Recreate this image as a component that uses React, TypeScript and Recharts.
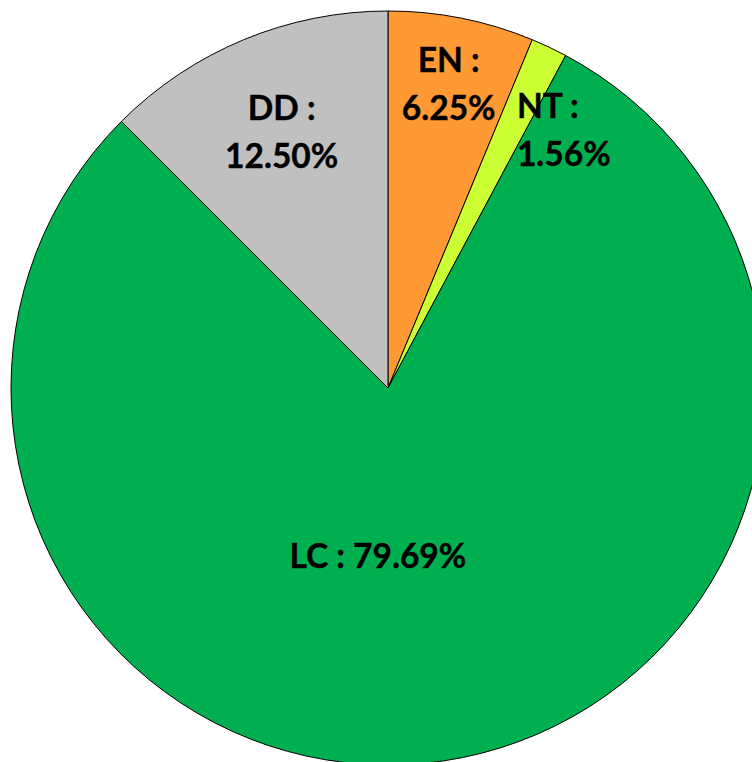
import React from 'react';
import { PieChart, Pie, Cell } from 'recharts';

const categories = ['EN', 'NT', 'LC', 'DD'];
const shares = [6.25, 1.56, 79.69, 12.5];
const colors = ['#FF9933', '#CCFF33', '#00B050', '#C0C0C0'];

const data = categories.map((name, i) => ({ name, value: shares[i] }));

// where each label sits: fraction of the radius along the slice mid-angle, plus nudges
const labelPlace: Record<string, { r: number; dx: number; dy: number; anchor: string; split: boolean }> = {
  EN: { r: 0.825, dx: 0, dy: 0, anchor: 'middle', split: true },
  NT: { r: 0.8, dx: 0, dy: 14, anchor: 'start', split: true },
  LC: { r: 0.449, dx: -35, dy: 0, anchor: 'middle', split: false },
  DD: { r: 0.737, dx: 0, dy: 0, anchor: 'middle', split: true },
};

const RAD = Math.PI / 180;

function renderLabel(props: any) {
  const { cx, cy, midAngle, outerRadius, name, value } = props;
  const p = labelPlace[name];
  const x = cx + p.r * outerRadius * Math.cos(-midAngle * RAD) + p.dx;
  const y = cy + p.r * outerRadius * Math.sin(-midAngle * RAD) + p.dy;
  const pct = value.toFixed(2) + '%';
  const style = { fontFamily: 'Lato', fontWeight: 700, fontSize: 33.5, fill: '#000', stroke: '#000', strokeWidth: 0.4 };
  if (!p.split) {
    return (
      <text x={x} y={y} textAnchor={p.anchor} dominantBaseline="central" style={style}>
        {name} : {pct}
      </text>
    );
  }
  return (
    <text x={x} y={y} textAnchor={p.anchor} style={style}>
      <tspan x={x} dy={-24} dominantBaseline="central">{name} :</tspan>
      <tspan x={x} dy={48} dominantBaseline="central">{pct}</tspan>
    </text>
  );
}

export default function App() {
  return (
    <div style={{ position: 'absolute', left: 0, top: 0, width: 752, height: 762, background: '#fff' }}>
      <PieChart width={752} height={762} margin={{ top: 0, right: 0, bottom: 0, left: 0 }}>
        <Pie
          data={data}
          dataKey="value"
          nameKey="name"
          cx={388}
          cy={388}
          outerRadius={377}
          startAngle={90}
          endAngle={-270}
          stroke="#000"
          strokeWidth={1}
          label={renderLabel}
          labelLine={false}
          isAnimationActive={false}
        >
          {data.map((d, i) => (
            <Cell key={d.name} fill={colors[i]} />
          ))}
        </Pie>
      </PieChart>
    </div>
  );
}
